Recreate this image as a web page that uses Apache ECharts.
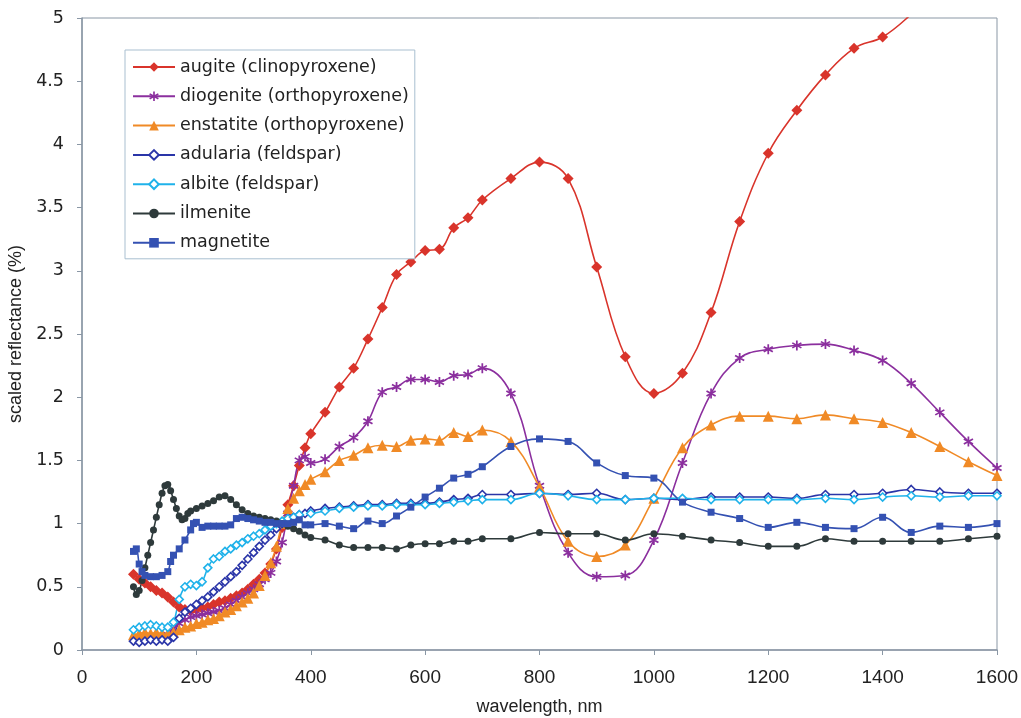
<!doctype html>
<html>
<head>
<meta charset="utf-8">
<title>scaled reflectance</title>
<style>
  html, body { margin: 0; padding: 0; background: #fff; }
  #main { width: 1021px; height: 718px; }
</style>
</head>
<body>
<div id="main"></div>
<script src="https://cdn.jsdelivr.net/npm/echarts@6/dist/echarts.min.js"></script>
<script>
// wavelength (nm), scaled reflectance (%)
var augite = [
  [90,0.60],[100,0.56],[110,0.53],[120,0.50],[130,0.47],[140,0.45],[150,0.42],[160,0.38],[170,0.34],[180,0.32],
  [190,0.31],[200,0.32],[210,0.33],[220,0.34],[230,0.36],[240,0.38],[250,0.39],[260,0.41],[270,0.43],[280,0.45],
  [290,0.48],[300,0.52],[310,0.56],[320,0.61],[330,0.68],[340,0.80],[350,0.97],[360,1.15],[370,1.30],[380,1.46],
  [390,1.60],[400,1.71],[425,1.88],[450,2.08],[475,2.23],[500,2.46],[525,2.71],[550,2.97],[575,3.07],[600,3.16],
  [625,3.17],[650,3.34],[675,3.42],[700,3.56],[750,3.73],[800,3.86],[850,3.73],[900,3.03],[950,2.32],[1000,2.03],
  [1050,2.19],[1100,2.67],[1150,3.39],[1200,3.93],[1250,4.27],[1300,4.55],[1350,4.76],[1400,4.85],[1450,5.03],[1500,5.25]
];
var diogenite = [
  [150,0.12],[160,0.17],[170,0.21],[180,0.24],[190,0.26],[200,0.27],[210,0.28],[220,0.29],[230,0.30],[240,0.31],
  [250,0.33],[260,0.36],[270,0.39],[280,0.42],[290,0.45],[300,0.48],[310,0.52],[320,0.56],[330,0.61],[340,0.70],
  [350,0.85],[360,1.08],[370,1.30],[380,1.50],[390,1.53],[400,1.48],[425,1.51],[450,1.61],[475,1.68],[500,1.81],
  [525,2.04],[550,2.08],[575,2.14],[600,2.14],[625,2.12],[650,2.17],[675,2.18],[700,2.23],[750,2.03],[800,1.30],
  [850,0.77],[900,0.58],[950,0.59],[1000,0.87],[1050,1.48],[1100,2.03],[1150,2.31],[1200,2.38],[1250,2.41],[1300,2.42],
  [1350,2.37],[1400,2.29],[1450,2.11],[1500,1.88],[1550,1.65],[1600,1.44]
];
var enstatite = [
  [90,0.12],[100,0.13],[110,0.14],[120,0.13],[130,0.14],[140,0.13],[150,0.13],[160,0.14],[170,0.16],[180,0.18],
  [190,0.19],[200,0.21],[210,0.22],[220,0.24],[230,0.25],[240,0.27],[250,0.30],[260,0.32],[270,0.35],[280,0.38],
  [290,0.41],[300,0.45],[310,0.51],[320,0.59],[330,0.69],[340,0.82],[350,1.00],[360,1.12],[370,1.20],[380,1.26],
  [390,1.31],[400,1.35],[425,1.41],[450,1.50],[475,1.54],[500,1.60],[525,1.62],[550,1.61],[575,1.66],[600,1.67],
  [625,1.66],[650,1.72],[675,1.69],[700,1.74],[750,1.65],[800,1.29],[850,0.86],[900,0.74],[950,0.83],[1000,1.20],
  [1050,1.60],[1100,1.78],[1150,1.85],[1200,1.85],[1250,1.83],[1300,1.86],[1350,1.83],[1400,1.80],[1450,1.72],[1500,1.61],
  [1550,1.49],[1600,1.38]
];
var adularia = [
  [90,0.07],[100,0.06],[110,0.07],[120,0.08],[130,0.07],[140,0.08],[150,0.07],[160,0.10],[170,0.25],[180,0.30],
  [190,0.33],[200,0.36],[210,0.39],[220,0.42],[230,0.46],[240,0.50],[250,0.54],[260,0.58],[270,0.62],[280,0.67],
  [290,0.72],[300,0.77],[310,0.82],[320,0.87],[330,0.91],[340,0.96],[350,1.00],[360,1.03],[370,1.05],[380,1.07],
  [390,1.08],[400,1.10],[425,1.12],[450,1.13],[475,1.14],[500,1.15],[525,1.15],[550,1.16],[575,1.16],[600,1.16],
  [625,1.17],[650,1.19],[675,1.20],[700,1.23],[750,1.23],[800,1.24],[850,1.23],[900,1.24],[950,1.19],[1000,1.20],
  [1050,1.19],[1100,1.21],[1150,1.21],[1200,1.21],[1250,1.20],[1300,1.23],[1350,1.23],[1400,1.24],[1450,1.27],[1500,1.25],
  [1550,1.24],[1600,1.24]
];
var albite = [
  [90,0.16],[100,0.18],[110,0.19],[120,0.20],[130,0.19],[140,0.18],[150,0.18],[160,0.22],[170,0.40],[180,0.50],
  [190,0.52],[200,0.51],[210,0.54],[220,0.65],[230,0.72],[240,0.74],[250,0.78],[260,0.80],[270,0.83],[280,0.85],
  [290,0.88],[300,0.90],[310,0.92],[320,0.95],[330,0.98],[340,1.00],[350,1.02],[360,1.04],[370,1.05],[380,1.07],
  [400,1.08],[425,1.10],[450,1.12],[475,1.13],[500,1.14],[525,1.14],[550,1.15],[575,1.15],[600,1.15],[625,1.16],
  [650,1.17],[675,1.18],[700,1.19],[750,1.19],[800,1.24],[850,1.22],[900,1.19],[950,1.19],[1000,1.20],[1050,1.20],
  [1100,1.19],[1150,1.19],[1200,1.19],[1250,1.19],[1300,1.20],[1350,1.19],[1400,1.21],[1450,1.22],[1500,1.21],[1550,1.22],
  [1600,1.22]
];
var ilmenite = [
  [90,0.50],[95,0.44],[100,0.47],[105,0.55],[110,0.65],[115,0.75],[120,0.85],[125,0.95],[130,1.05],[135,1.15],
  [140,1.24],[145,1.30],[150,1.31],[155,1.26],[160,1.19],[165,1.12],[170,1.06],[175,1.03],[180,1.04],[185,1.08],
  [190,1.10],[200,1.12],[210,1.14],[220,1.16],[230,1.18],[240,1.21],[250,1.22],[260,1.19],[270,1.15],[280,1.11],
  [290,1.08],[300,1.06],[310,1.05],[320,1.04],[330,1.03],[340,1.02],[350,1.00],[360,0.98],[370,0.96],[380,0.94],
  [390,0.91],[400,0.89],[425,0.87],[450,0.83],[475,0.81],[500,0.81],[525,0.81],[550,0.80],[575,0.83],[600,0.84],
  [625,0.84],[650,0.86],[675,0.86],[700,0.88],[750,0.88],[800,0.93],[850,0.92],[900,0.92],[950,0.87],[1000,0.92],
  [1050,0.90],[1100,0.87],[1150,0.85],[1200,0.82],[1250,0.82],[1300,0.88],[1350,0.86],[1400,0.86],[1450,0.86],[1500,0.86],
  [1550,0.88],[1600,0.90]
];
var magnetite = [
  [90,0.78],[95,0.80],[100,0.68],[105,0.62],[110,0.59],[120,0.58],[130,0.58],[140,0.59],[150,0.62],[155,0.70],
  [160,0.75],[170,0.80],[180,0.87],[190,0.95],[195,1.00],[200,1.01],[210,0.97],[220,0.98],[230,0.98],[240,0.98],
  [250,0.98],[260,0.99],[270,1.04],[280,1.05],[290,1.04],[300,1.03],[310,1.02],[320,1.01],[330,1.01],[340,1.00],
  [350,1.00],[360,1.00],[370,1.01],[380,1.03],[390,0.99],[400,0.99],[425,1.00],[450,0.98],[475,0.96],[500,1.02],
  [525,1.00],[550,1.06],[575,1.13],[600,1.21],[625,1.28],[650,1.36],[675,1.39],[700,1.45],[750,1.61],[800,1.67],
  [850,1.65],[900,1.48],[950,1.38],[1000,1.36],[1050,1.17],[1100,1.09],[1150,1.04],[1200,0.97],[1250,1.01],[1300,0.97],
  [1350,0.96],[1400,1.05],[1450,0.93],[1500,0.98],[1550,0.97],[1600,1.00]
];

var names = ['augite (clinopyroxene)', 'diogenite (orthopyroxene)', 'enstatite (orthopyroxene)',
  'adularia (feldspar)', 'albite (feldspar)', 'ilmenite', 'magnetite'];

var asterisk = 'path://M-1,-6L1,-6L1,6L-1,6Z' +
  'M4.696,-3.866L5.696,-2.134L-4.696,3.866L-5.696,2.134Z' +
  'M-5.696,-2.134L-4.696,-3.866L5.696,2.134L4.696,3.866Z';

var axisColor = '#8a97a5';

function mk(name, data, color, symbol, size, open) {
  return {
    name: name,
    type: 'line',
    data: data,
    smooth: 0.4,
    showAllSymbol: true,
    symbol: symbol,
    symbolSize: size,
    clip: true,
    lineStyle: { color: color, width: 1.6 },
    itemStyle: open
      ? { color: '#ffffff', borderColor: color, borderWidth: 1.6 }
      : { color: color },
    emphasis: { disabled: true }
  };
}

var chart = echarts.init(document.getElementById('main'));
chart.setOption({
  backgroundColor: '#ffffff',
  animation: false,
  grid: {
    left: 82, right: 24, top: 18, bottom: 68,
    containLabel: false,
    outerBoundsMode: 'none',
    show: true, borderColor: axisColor, borderWidth: 1
  },
  legend: {
    orient: 'vertical',
    left: 125, top: 50,
    padding: [7, 6, 6, 7],
    itemGap: 9.3,
    itemWidth: 42,
    itemHeight: 12,
    borderColor: '#a9bfd0',
    borderWidth: 1,
    backgroundColor: '#ffffff',
    textStyle: { fontFamily: 'DejaVu Sans', fontSize: 17.5, color: '#222', lineHeight: 20 },
    data: names
  },
  xAxis: {
    type: 'value',
    min: 0, max: 1600, interval: 200,
    name: 'wavelength, nm',
    nameLocation: 'middle',
    nameGap: 48,
    nameTextStyle: { fontFamily: 'Liberation Sans', fontSize: 18, color: '#222' },
    axisLine: { lineStyle: { color: axisColor, width: 1.5 } },
    axisTick: { show: true, length: 5, lineStyle: { color: axisColor } },
    axisLabel: {
      margin: 18, fontFamily: 'Liberation Sans', fontSize: 19, color: '#222',
      formatter: function (v) { return String(v); }
    },
    splitLine: { show: false }
  },
  yAxis: {
    type: 'value',
    min: 0, max: 5, interval: 0.5,
    name: 'scaled reflectance (%)',
    nameLocation: 'middle',
    nameGap: 56,
    nameTextStyle: { fontFamily: 'Liberation Sans', fontSize: 18, color: '#222' },
    axisLine: { lineStyle: { color: axisColor, width: 1.5 } },
    axisTick: { show: true, length: 5, lineStyle: { color: axisColor } },
    axisLabel: { margin: 18, fontFamily: 'DejaVu Sans', fontSize: 17.5, color: '#222' },
    splitLine: { show: false }
  },
  series: [
    mk(names[0], augite, '#d9342b', 'diamond', 11, false),
    mk(names[1], diogenite, '#8b2f9e', asterisk, 10, false),
    mk(names[2], enstatite, '#f08a26', 'triangle', 11, false),
    mk(names[3], adularia, '#2a35a8', 'diamond', 8, true),
    mk(names[4], albite, '#1fb2ea', 'diamond', 8, true),
    mk(names[5], ilmenite, '#2e3a3b', 'circle', 7, false),
    mk(names[6], magnetite, '#3451b2', 'rect', 7, false)
  ]
});

window.onresize = chart.resize;
</script>
</body>
</html>
